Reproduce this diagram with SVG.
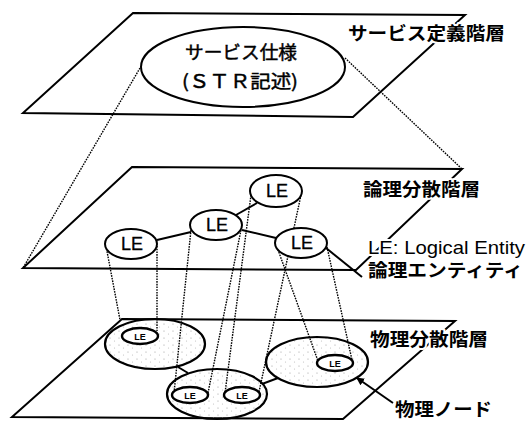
<svg xmlns="http://www.w3.org/2000/svg" width="526" height="421" viewBox="0 0 526 421">
<defs>
<style>
.plane{fill:none;stroke:#000;stroke-width:2;stroke-linejoin:miter}
.node{fill:#fff;stroke:#000;stroke-width:2}
.pnode{fill:url(#stip);stroke:#000;stroke-width:2.2}
.pin{fill:#fff;stroke:#000;stroke-width:2.4}
.proj{fill:none;stroke:#000;stroke-width:1.4;stroke-dasharray:1.6 1.1}
.link{fill:none;stroke:#000;stroke-width:2}
.lbl{font-family:"Noto Sans CJK JP","Noto Sans CJK SC",sans-serif;font-weight:bold;font-size:18px;fill:#000;stroke:#fff;stroke-width:4;paint-order:stroke;stroke-linejoin:round}
.ttl{font-family:"Noto Sans CJK JP","Noto Sans CJK SC",sans-serif;font-size:18px;fill:#000;stroke:#000;stroke-width:0.45;text-anchor:middle}
.en{font-family:"Liberation Sans",Arial,sans-serif;font-size:19px;fill:#000;stroke:#fff;stroke-width:4;paint-order:stroke}
.le{font-family:"Liberation Sans",Arial,sans-serif;font-size:18px;fill:#000;stroke:#000;stroke-width:0.3;text-anchor:middle}
.les{font-family:"Liberation Sans",Arial,sans-serif;font-size:9px;font-weight:bold;fill:#000;text-anchor:middle}
</style>
<pattern id="stip" width="9" height="7" patternUnits="userSpaceOnUse">
<circle cx="2" cy="2" r="0.6" fill="#999"/>
<circle cx="6.5" cy="5" r="0.6" fill="#bbb"/>
</pattern>
<marker id="arr" markerWidth="8" markerHeight="8" refX="7" refY="4" orient="auto" markerUnits="userSpaceOnUse">
<path d="M0,0 L8,4 L0,8 z" fill="#000"/>
</marker>
</defs>

<g id="planes">
<polygon id="plane-service" class="plane" points="133,13 465,15 353,117 23,113"/>
<polygon id="plane-logical" class="plane" points="132,167 462,169 356,270 23,268"/>
<polygon id="plane-physical" class="plane" points="122,319 455,321 343,419 12,417"/>
</g>

<g id="physical-nodes">
<ellipse id="pnode-left" class="pnode" cx="155" cy="344" rx="50" ry="25"/>
<ellipse id="pnode-bottom" class="pnode" cx="217" cy="394" rx="50" ry="25"/>
<ellipse id="pnode-right" class="pnode" cx="317" cy="362" rx="51" ry="25"/>
</g>

<g id="connectors">
<line class="proj" x1="140" y1="68" x2="23" y2="268"/>
<line class="proj" x1="345" y1="58" x2="462" y2="169"/>
<line class="proj" x1="106" y1="246" x2="120" y2="320"/>
<line class="proj" x1="157" y1="246" x2="157" y2="331"/>
<line class="proj" x1="191" y1="230" x2="174" y2="393"/>
<line class="proj" x1="241" y1="230" x2="208" y2="393"/>
<line class="proj" x1="251" y1="195" x2="225" y2="393"/>
<line class="proj" x1="301" y1="195" x2="259" y2="392"/>
<line class="proj" x1="277" y1="247" x2="318" y2="361"/>
<line class="proj" x1="327" y1="247" x2="352" y2="360"/>
<line class="link" x1="157" y1="240" x2="191" y2="232"/>
<line class="link" x1="236" y1="215" x2="257" y2="203"/>
<line class="link" x1="242" y1="230" x2="276" y2="238"/>
<line class="link" x1="178" y1="367" x2="188" y2="373"/>
<line class="link" x1="262" y1="384" x2="278" y2="378"/>
<line class="link" x1="326" y1="248" x2="362" y2="277"/>
<line class="link" x1="393" y1="403" x2="357" y2="378" marker-end="url(#arr)"/>
</g>

<g id="service-spec">
<ellipse class="node" cx="243" cy="67" rx="102" ry="40"/>
<text class="ttl" x="241" y="59" textLength="112" lengthAdjust="spacingAndGlyphs">サービス仕様</text>
<text class="ttl" x="240" y="88" textLength="116" lengthAdjust="spacingAndGlyphs">(ＳＴＲ記述)</text>
</g>

<g id="le-left"><ellipse class="node" cx="131" cy="244" rx="26" ry="15"/><text class="le" x="132" y="250">LE</text></g>
<g id="le-mid"><ellipse class="node" cx="216" cy="225" rx="26" ry="15"/><text class="le" x="217" y="231">LE</text></g>
<g id="le-top"><ellipse class="node" cx="276" cy="191" rx="26" ry="16"/><text class="le" x="277" y="197">LE</text></g>
<g id="le-right"><ellipse class="node" cx="301" cy="243" rx="26" ry="15"/><text class="le" x="302" y="249">LE</text></g>

<g id="ple-left"><ellipse class="pin" cx="140" cy="336" rx="18" ry="8"/><text class="les" x="140" y="339.5">LE</text></g>
<g id="ple-bl"><ellipse class="pin" cx="190" cy="395" rx="18" ry="8"/><text class="les" x="190" y="398.5">LE</text></g>
<g id="ple-br"><ellipse class="pin" cx="242" cy="395" rx="18" ry="8"/><text class="les" x="242" y="398.5">LE</text></g>
<g id="ple-right"><ellipse class="pin" cx="335" cy="363" rx="18" ry="8"/><text class="les" x="335" y="366.5">LE</text></g>

<g id="labels">
<text class="lbl" x="348" y="40" textLength="157" lengthAdjust="spacingAndGlyphs">サービス定義階層</text>
<text class="lbl" x="363" y="196" textLength="117" lengthAdjust="spacingAndGlyphs">論理分散階層</text>
<text class="en" x="368" y="254" textLength="157" lengthAdjust="spacingAndGlyphs">LE: Logical Entity</text>
<text class="lbl" x="368" y="277" textLength="155" lengthAdjust="spacingAndGlyphs">論理エンティティ</text>
<text class="lbl" x="370" y="346" textLength="118" lengthAdjust="spacingAndGlyphs">物理分散階層</text>
<text class="lbl" x="395" y="416" textLength="97" lengthAdjust="spacingAndGlyphs">物理ノード</text>
</g>
</svg>
